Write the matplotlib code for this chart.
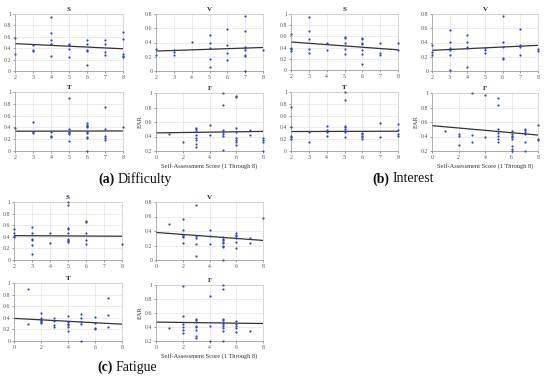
import matplotlib
matplotlib.use('Agg')
import matplotlib.pyplot as plt
import numpy as np

# ---------------- data (EAR values grouped by self-assessment score) -------------
# (a) Difficulty
diff_S = {2: [0.58, 0.30], 3: [0.46, 0.37, 0.35], 4: [0.94, 0.66, 0.54, 0.48, 0.47, 0.27],
          5: [0.48, 0.46, 0.39, 0.25], 6: [0.55, 0.48, 0.37, 0.35, 0.10],
          7: [0.55, 0.48, 0.33, 0.28], 8: [0.69, 0.57, 0.30, 0.27, 0.25]}
diff_V = {2: [0.31, 0.22], 3: [0.30, 0.26, 0.23], 4: [0.41], 5: [0.50, 0.40, 0.32, 0.17, 0.05],
          6: [0.59, 0.36, 0.25, 0.16], 7: [0.77, 0.56, 0.33, 0.32, 0.30, 0.23, 0.21, 0.0], 8: [0.30]}
diff_T = {2: [0.39], 3: [0.49, 0.32, 0.30], 4: [0.32, 0.26, 0.23],
          5: [0.89, 0.37, 0.33, 0.30, 0.28, 0.17],
          6: [0.47, 0.44, 0.42, 0.40, 0.33, 0.30, 0.24, 0.22, 0.0],
          7: [0.74, 0.38, 0.26, 0.22, 0.19], 8: [0.41]}
diff_F = {1: [0.44], 2: [0.33], 3: [0.52, 0.50, 0.47, 0.42, 0.38, 0.35, 0.30, 0.26],
          4: [0.56, 0.42], 5: [1.0, 0.84, 0.49, 0.46, 0.43, 0.41, 0.21],
          6: [0.96, 0.94, 0.52, 0.46, 0.38, 0.35, 0.33, 0.28], 7: [0.49, 0.42],
          8: [0.38, 0.35, 0.33, 0.20]}
diff_fit = {'S': [0.48, 0.39], 'V': [0.28, 0.33], 'T': [0.335, 0.34], 'F': [0.45, 0.47]}

# (b) Interest
int_S = {2: [0.65, 0.40, 0.37, 0.34], 3: [0.94, 0.69, 0.56, 0.37, 0.31], 4: [0.48, 0.35],
         5: [0.59, 0.57, 0.48, 0.38, 0.28], 6: [0.58, 0.55, 0.49, 0.47, 0.36, 0.28, 0.10],
         7: [0.49, 0.31, 0.27], 8: [0.49, 0.36]}
int_V = {2: [0.37, 0.26, 0.23], 3: [0.57, 0.41, 0.32, 0.30, 0.23, 0.01],
         4: [0.50, 0.41, 0.33, 0.32, 0.06], 5: [0.32, 0.30, 0.25],
         6: [0.77, 0.41, 0.34, 0.18, 0.17], 7: [0.59, 0.36, 0.33, 0.22], 8: [0.31, 0.28]}
int_T = {2: [0.74, 0.40, 0.26, 0.24, 0.21], 3: [0.32, 0.16], 4: [0.42, 0.35, 0.32, 0.25],
         5: [1.0, 0.87, 0.43, 0.40, 0.37, 0.34, 0.32, 0.24],
         6: [0.30, 0.28, 0.25, 0.23, 0.20], 7: [0.48, 0.24], 8: [0.46, 0.36, 0.29, 0.25]}
int_F = {1: [0.48], 2: [0.43, 0.41, 0.28], 3: [1.0, 0.42, 0.33], 4: [0.97, 0.39],
         5: [0.93, 0.84, 0.51, 0.45, 0.41, 0.36, 0.33],
         6: [0.48, 0.44, 0.41, 0.39, 0.36, 0.27, 0.23, 0.20],
         7: [0.51, 0.49, 0.46, 0.43, 0.32, 0.20], 8: [0.56, 0.37, 0.35]}
int_fit = {'S': [0.50, 0.36], 'V': [0.29, 0.36], 'T': [0.33, 0.335], 'F': [0.55, 0.42]}

# (c) Fatigue
fat_S = {2: [0.54, 0.47, 0.41, 0.39], 3: [0.57, 0.47, 0.37, 0.34, 0.26, 0.10], 4: [0.47, 0.30],
         5: [1.0, 0.94, 0.56, 0.54, 0.47, 0.37, 0.34, 0.32, 0.31],
         6: [0.67, 0.65, 0.47, 0.34, 0.27], 8: [0.27]}
fat_V = {1: [0.49], 2: [0.56, 0.41, 0.35, 0.33, 0.32, 0.23], 3: [0.76, 0.33, 0.31, 0.22, 0.05],
         4: [0.41, 0.33, 0.22], 5: [0.32, 0.29, 0.27, 0.25, 0.23, 0.20, 0.18, 0.0],
         6: [0.37, 0.35, 0.33, 0.30, 0.25, 0.16], 7: [0.31, 0.23], 8: [0.58]}
fat_T = {1: [0.89, 0.29], 2: [0.49, 0.39, 0.37, 0.35, 0.33, 0.31], 3: [0.40, 0.35, 0.27, 0.24],
         4: [0.43, 0.33, 0.30, 0.27, 0.24, 0.17], 5: [0.47, 0.40, 0.33, 0.30, 0.0],
         6: [0.41, 0.31, 0.23, 0.21], 7: [0.74, 0.44, 0.25]}
fat_F = {1: [0.38], 2: [0.98, 0.56, 0.44, 0.40, 0.36, 0.31],
         3: [0.52, 0.50, 0.47, 0.42, 0.40, 0.36, 0.27, 0.24], 4: [0.84, 0.42, 0.20],
         5: [1.0, 0.95, 0.52, 0.50, 0.47, 0.44, 0.42, 0.38, 0.35, 0.20],
         6: [0.49, 0.45, 0.42, 0.39, 0.33], 7: [0.35]}
fat_fit = {'S': [0.42, 0.41], 'V': [0.38, 0.27], 'T': [0.39, 0.29], 'F': [0.47, 0.45]}

captions = [('(a)', 'Difficulty'), ('(b)', 'Interest'), ('(c)', 'Fatigue')]
xlabel_text = 'Self-Assessment Score (1 Through 8)'

# ---------------- layout -------------
W, H = 550, 380
fig = plt.figure(figsize=(W / 100, H / 100), dpi=100)
fig.patch.set_facecolor('white')

SERIF = ['Liberation Serif', 'DejaVu Serif']
DOT = '#2f45d0'
TICKC = '#555555'


def rect(l, t, r, b):
    return [l / W, 1 - b / H, (r - l) / W, (b - t) / H]


def panel(box, data, fit, title, xlim, xticks, ylim, yticks, xlabel=False, ylabel=False):
    ax = fig.add_axes(rect(*box))
    xs, ys = [], []
    for k, vals in data.items():
        xs += [k] * len(vals)
        ys += vals
    ax.plot(xlim, fit, color='#333333', lw=0.9, zorder=2)
    ax.plot(xs, ys, ls='none', marker='o', ms=1.6, mec='none', mfc=DOT, zorder=3, clip_on=False)
    ax.set_xlim(*xlim)
    ax.set_ylim(*ylim)
    ax.set_xticks(xticks)
    ax.set_yticks(yticks)
    ax.set_xticklabels([str(v) for v in xticks])
    ax.set_yticklabels([('%g' % v) for v in yticks])
    ax.tick_params(labelsize=4.2, colors=TICKC, length=1.2, width=0.4, pad=1.5)
    for lab in ax.get_xticklabels() + ax.get_yticklabels():
        lab.set_fontfamily(SERIF)
    ax.grid(True, color='#e4e4e4', lw=0.5)
    ax.set_axisbelow(True)
    for s in ax.spines.values():
        s.set_color('#c8c8c8')
        s.set_linewidth(0.5)
    ax.spines['bottom'].set_color('#888888')
    ax.spines['left'].set_color('#999999')
    ax.set_title(title, fontsize=5, fontweight='bold', family=SERIF, pad=2.5, color='#222222')
    if xlabel:
        ax.set_xlabel(xlabel_text, fontsize=4.6, family=SERIF, labelpad=2, color='#333333')
    if ylabel:
        ax.set_ylabel('EAR', fontsize=4.6, family=SERIF, labelpad=1.5, color='#333333')
    return ax


ticks28 = [2, 3, 4, 5, 6, 7, 8]
ticks08 = [0, 2, 4, 6, 8]
y01 = [0, 0.2, 0.4, 0.6, 0.8, 1]
y008 = [0, 0.2, 0.4, 0.6, 0.8]
y021 = [0.2, 0.4, 0.6, 0.8, 1]

# (a) Difficulty
panel((15, 14, 123, 71), diff_S, diff_fit['S'], 'S', (2, 8), ticks28, (0, 1), y01)
panel((156, 14, 263, 71), diff_V, diff_fit['V'], 'V', (2, 8), ticks28, (0, 0.8), y008)
panel((15, 92, 123, 151), diff_T, diff_fit['T'], 'T', (2, 8), ticks28, (0, 1), y01)
panel((156, 93, 263, 151), diff_F, diff_fit['F'], 'F', (0, 8), ticks08, (0.2, 1), y021,
      xlabel=True, ylabel=True)

# (b) Interest
panel((291, 14, 398, 70), int_S, int_fit['S'], 'S', (2, 8), ticks28, (0, 1), y01)
panel((432, 14, 538, 71), int_V, int_fit['V'], 'V', (2, 8), ticks28, (0, 0.8), y008)
panel((291, 92, 398, 151), int_T, int_fit['T'], 'T', (2, 8), ticks28, (0, 1), y01)
panel((432, 93, 538, 151), int_F, int_fit['F'], 'F', (0, 8), ticks08, (0.2, 1), y021,
      xlabel=True, ylabel=True)

# (c) Fatigue
panel((14, 202, 122, 260), fat_S, fat_fit['S'], 'S', (2, 8), ticks28, (0, 1), y01)
panel((156, 202, 263, 260), fat_V, fat_fit['V'], 'V', (0, 8), ticks08, (0, 0.8), y008)
panel((14, 283, 122, 341), fat_T, fat_fit['T'], 'T', (0, 8), ticks08, (0, 1), y01)
panel((156, 285, 263, 341), fat_F, fat_fit['F'], 'F', (0, 8), ticks08, (0.2, 1), y021,
      xlabel=True, ylabel=True)

# captions
cap_pos = [(98, 179), (372, 179), (97, 367)]
for (tag, word), (px, py) in zip(captions, cap_pos):
    t = fig.text(px / W, 1 - py / H, tag, fontsize=10, fontweight='bold', family=SERIF,
                 va='center', ha='left', color='#111111')
    fig.canvas.draw()
    bb = t.get_window_extent()
    fig.text((bb.x1 + 3.5) / W, 1 - py / H, word, fontsize=10, family=SERIF,
             va='center', ha='left', color='#111111')

fig.savefig('out.png', dpi=100, facecolor='white')
